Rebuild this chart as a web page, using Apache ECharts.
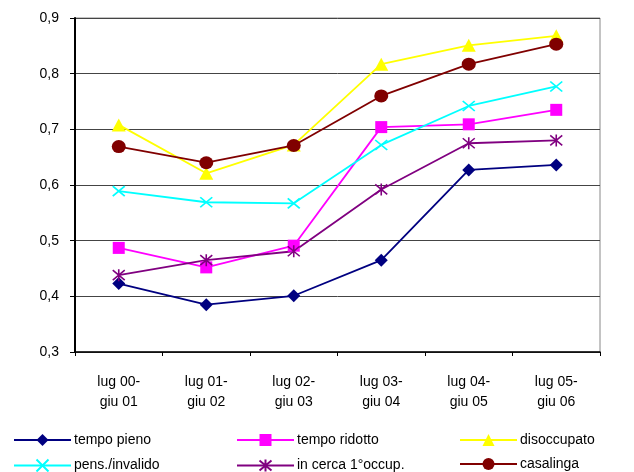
<!DOCTYPE html>
<html>
<head>
<meta charset="utf-8">
<script src="https://cdn.jsdelivr.net/npm/echarts@6/dist/echarts.min.js"></script>
<style>html,body{margin:0;padding:0;background:#fff}#c{width:634px;height:472px}</style>
</head>
<body>
<div id="c"></div>
<script>
const categories = ['lug 00-\ngiu 01', 'lug 01-\ngiu 02', 'lug 02-\ngiu 03', 'lug 03-\ngiu 04', 'lug 04-\ngiu 05', 'lug 05-\ngiu 06'];
const tempoPieno   = [0.423, 0.385, 0.401, 0.465, 0.627, 0.636];
const tempoRidotto = [0.487, 0.452, 0.491, 0.704, 0.709, 0.735];
const disoccupato  = [0.708, 0.621, 0.672, 0.817, 0.851, 0.868];
const pensInvalido = [0.589, 0.569, 0.567, 0.672, 0.742, 0.777];
const inCerca      = [0.438, 0.465, 0.481, 0.592, 0.675, 0.680];
const casalinga    = [0.669, 0.640, 0.671, 0.760, 0.817, 0.853];
const seriesNames = ['tempo pieno', 'tempo ridotto', 'disoccupato', 'pens./invalido', 'in cerca 1°occup.', 'casalinga'];

const FONT = 'Liberation Sans, Arial, sans-serif';
const crossPath = 'path://M0,0L10,10M10,0L0,10';
const starPath = 'path://M0,0L10,10M10,0L0,10M5,-1L5,11';

function mk(name, data, color, symbol, size, stroke) {
  return {
    name: name, type: 'line', data: data, symbol: symbol, symbolSize: size,
    showAllSymbol: true,
    lineStyle: { color: color, width: 1.8 },
    itemStyle: stroke ? { color: 'none', borderColor: color, borderWidth: 1.6 } : { color: color, borderWidth: 0 },
    emphasis: { disabled: true },
    animation: false
  };
}

const series = [
  mk(seriesNames[0], tempoPieno, '#000080', 'diamond', [13, 13], false),
  mk(seriesNames[1], tempoRidotto, '#FF00FF', 'rect', [12, 12], false),
  mk(seriesNames[2], disoccupato, '#FFFF00', 'triangle', [14, 13], false),
  mk(seriesNames[3], pensInvalido, '#00FFFF', crossPath, [12, 10], true),
  mk(seriesNames[4], inCerca, '#800080', starPath, [12, 12], true),
  mk(seriesNames[5], casalinga, '#800000', 'circle', [14, 13], false)
];

const legPos = [[13, 433], [236, 433], [459, 433], [13, 457], [236, 457], [459, 457]];
const legends = seriesNames.map((n, i) => ({
  data: [n], left: legPos[i][0], top: legPos[i][1], itemWidth: 57, itemHeight: 15, itemGap: 0,
  padding: 0, selectedMode: false,
  textStyle: { fontFamily: FONT, fontSize: 14, color: '#000', padding: [0, 0, 0, -2] }
}));

const chart = echarts.init(document.getElementById('c'), null, { renderer: 'canvas' });
chart.setOption({
  animation: false,
  backgroundColor: '#fff',
  legend: legends,
  grid: { left: 75, right: 34, top: 18, bottom: 120, show: true, borderColor: '#888', borderWidth: 1, containLabel: false },
  xAxis: {
    type: 'category', data: categories, boundaryGap: true,
    axisLine: { lineStyle: { color: '#000', width: 1.5 } },
    axisTick: { show: true, length: 4, lineStyle: { color: '#000' } },
    axisLabel: { fontFamily: FONT, fontSize: 14, color: '#000', margin: 20, lineHeight: 20, interval: 0 },
    splitLine: { show: false }
  },
  yAxis: {
    type: 'value', min: 0.3, max: 0.9, interval: 0.1,
    axisLine: { show: true, lineStyle: { color: '#000', width: 2 } },
    axisTick: { show: true, length: 5, lineStyle: { color: '#000' } },
    axisLabel: { fontFamily: FONT, fontSize: 14, color: '#000', margin: 16,
      formatter: v => v.toFixed(1).replace('.', ',') },
    splitLine: { show: true, lineStyle: { color: '#444', width: 1 } }
  },
  series: series
});
</script>
</body>
</html>
